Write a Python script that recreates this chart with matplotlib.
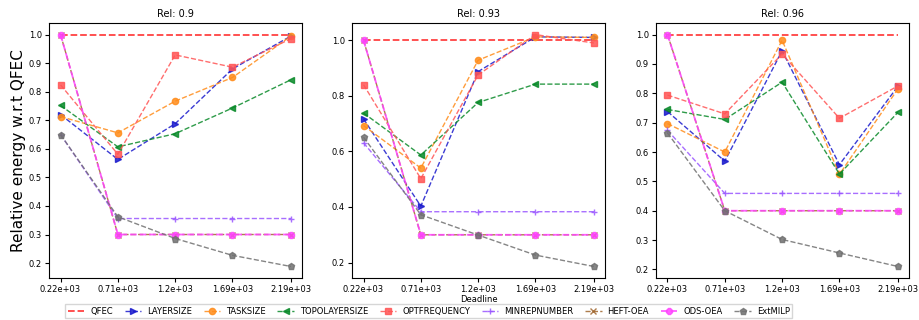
import matplotlib
matplotlib.use("Agg")
import matplotlib.pyplot as plt

deadlines = [220, 710, 1200, 1690, 2190]
deadline_labels = ["0.22e+03", "0.71e+03", "1.2e+03", "1.69e+03", "2.19e+03"]
rels = ["0.9", "0.93", "0.96"]

methods = ["QFEC", "LAYERSIZE", "TASKSIZE", "TOPOLAYERSIZE", "OPTFREQUENCY",
           "MINREPNUMBER", "HEFT-OEA", "ODS-OEA", "ExtMILP"]

# Rel 0.9
qfec_09 = [1.0, 1.0, 1.0, 1.0, 1.0]
layer_09 = [0.72, 0.563, 0.688, 0.88, 0.995]
task_09 = [0.713, 0.656, 0.767, 0.850, 0.995]
topo_09 = [0.752, 0.607, 0.653, 0.743, 0.842]
opt_09 = [0.824, 0.581, 0.929, 0.886, 0.986]
minrep_09 = [0.65, 0.356, 0.356, 0.356, 0.356]
heft_09 = [1.0, 0.30, 0.30, 0.30, 0.30]
ods_09 = [1.0, 0.30, 0.30, 0.30, 0.30]
milp_09 = [0.650, 0.362, 0.286, 0.227, 0.188]

# Rel 0.93
qfec_093 = [1.0, 1.0, 1.0, 1.0, 1.0]
layer_093 = [0.717, 0.403, 0.887, 1.012, 1.01]
task_093 = [0.693, 0.540, 0.928, 1.012, 1.01]
topo_093 = [0.738, 0.587, 0.776, 0.842, 0.842]
opt_093 = [0.840, 0.502, 0.875, 1.02, 0.99]
minrep_093 = [0.631, 0.383, 0.383, 0.383, 0.383]
heft_093 = [1.0, 0.30, 0.30, 0.30, 0.30]
ods_093 = [1.0, 0.30, 0.30, 0.30, 0.30]
milp_093 = [0.651, 0.372, 0.299, 0.227, 0.186]

# Rel 0.96
qfec_096 = [1.0, 1.0, 1.0, 1.0, 1.0]
layer_096 = [0.738, 0.569, 0.945, 0.557, 0.824]
task_096 = [0.697, 0.600, 0.981, 0.524, 0.815]
topo_096 = [0.745, 0.711, 0.838, 0.525, 0.735]
opt_096 = [0.794, 0.730, 0.934, 0.715, 0.825]
minrep_096 = [0.674, 0.459, 0.459, 0.459, 0.459]
heft_096 = [1.0, 0.40, 0.40, 0.40, 0.40]
ods_096 = [1.0, 0.40, 0.40, 0.40, 0.40]
milp_096 = [0.665, 0.400, 0.302, 0.256, 0.210]

panels = [
    [qfec_09, layer_09, task_09, topo_09, opt_09, minrep_09, heft_09, ods_09, milp_09],
    [qfec_093, layer_093, task_093, topo_093, opt_093, minrep_093, heft_093, ods_093, milp_093],
    [qfec_096, layer_096, task_096, topo_096, opt_096, minrep_096, heft_096, ods_096, milp_096],
]

styles = {
    "QFEC": dict(color="#ff2222", marker=None, lw=1.3, alpha=0.85),
    "LAYERSIZE": dict(color="#1a1acc", marker=">", ms=4.5, lw=1.0, alpha=0.85),
    "TASKSIZE": dict(color="#ff8c1a", marker="o", ms=4.5, lw=1.0, alpha=0.85),
    "TOPOLAYERSIZE": dict(color="#0a8a2a", marker="<", ms=4.5, lw=1.0, alpha=0.85),
    "OPTFREQUENCY": dict(color="#ff5555", marker="s", ms=4.5, lw=1.0, alpha=0.85),
    "MINREPNUMBER": dict(color="#9955ff", marker="+", ms=4.5, lw=1.0, alpha=0.85),
    "HEFT-OEA": dict(color="#a0662e", marker="x", ms=4.5, lw=1.0, alpha=0.85),
    "ODS-OEA": dict(color="#ff44ff", marker="8", ms=5, lw=1.3, alpha=0.85),
    "ExtMILP": dict(color="#707070", marker="p", ms=4.5, lw=1.0, alpha=0.85),
}

fig = plt.figure(figsize=(9.2, 3.2), dpi=100)
lefts = [0.0533, 0.3826, 0.713]
width = 0.2755
bottom, top = 0.131, 0.928
axes = [fig.add_axes([l, bottom, width, top - bottom]) for l in lefts]

handles = []
for i, ax in enumerate(axes):
    for name, vals in zip(methods, panels[i]):
        st = dict(styles[name])
        h, = ax.plot(deadlines, vals, linestyle="--", label=name, **st)
        if i == 0:
            handles.append(h)
    ax.set_xticks(deadlines)
    ax.set_xticklabels(deadline_labels)
    ax.tick_params(labelsize=6, length=3, pad=2)
    ax.set_title("Rel: " + rels[i], fontsize=7, pad=4)

axes[0].set_ylabel("Relative energy w.r.t QFEC", fontsize=11, labelpad=2)
axes[1].set_xlabel("Deadline", fontsize=6, labelpad=1)

fig.legend(handles, methods, loc="upper center", bbox_to_anchor=(0.466, 0.062),
           ncol=9, fontsize=6, frameon=True, handlelength=2.0, columnspacing=1.4,
           handletextpad=0.7, borderpad=0.3, fancybox=False, edgecolor="#cccccc")

fig.savefig("out.png", dpi=100)
